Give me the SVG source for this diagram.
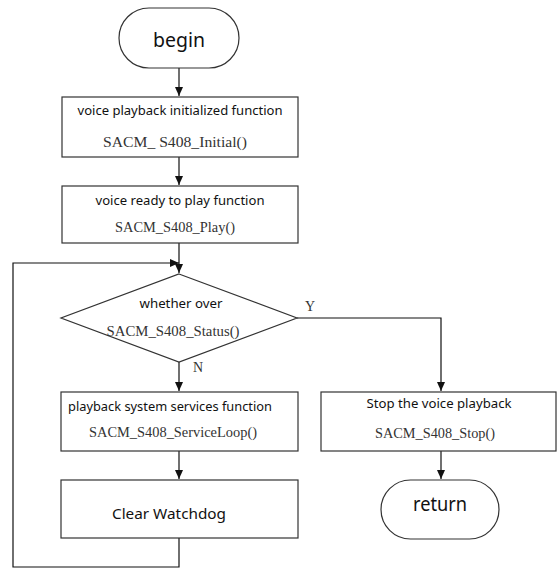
<svg xmlns="http://www.w3.org/2000/svg" width="557" height="568" viewBox="0 0 557 568">
<defs>
<marker id="ah" markerWidth="10" markerHeight="10" refX="9" refY="5" orient="auto" markerUnits="userSpaceOnUse">
<path d="M0,1 L9,5 L0,9 Z" fill="#111"/>
</marker>
<style>
.shape{fill:#fff;stroke:#333;stroke-width:1.2}
.conn{fill:none;stroke:#111;stroke-width:1.2}
.t{font-family:"Noto Sans","Open Sans",sans-serif;font-size:13px;fill:#111;text-anchor:middle}
.big{font-size:20px}
.mid{font-size:15px}
.c{font-family:"Liberation Serif","DejaVu Serif",serif;font-size:14px;fill:#333;text-anchor:middle}
</style>
</defs>
<rect width="557" height="568" fill="#fff"/>
<g id="connectors">
<line class="conn" x1="179" y1="68" x2="179" y2="96" marker-end="url(#ah)"/>
<line class="conn" x1="179" y1="157" x2="179" y2="185" marker-end="url(#ah)"/>
<line class="conn" x1="179" y1="243" x2="179" y2="273" marker-end="url(#ah)"/>
<polyline class="conn" points="179,538 179,567 13,567 13,263 179,263" marker-end="url(#ah)"/>
<line class="conn" x1="179" y1="362" x2="179" y2="391" marker-end="url(#ah)"/>
<line class="conn" x1="179" y1="451" x2="179" y2="479" marker-end="url(#ah)"/>
<polyline class="conn" points="297,318 441,318 441,391" marker-end="url(#ah)"/>
<line class="conn" x1="441" y1="451" x2="441" y2="479" marker-end="url(#ah)"/>
<text class="c" x="310" y="311" font-size="13">Y</text>
<text class="c" x="198" y="372" font-size="13">N</text>
</g>
<g id="begin">
<rect class="shape" x="119" y="8" width="120" height="60" rx="30"/>
<text class="t big" x="179" y="47" textLength="52" lengthAdjust="spacingAndGlyphs">begin</text>
</g>
<g id="init">
<rect class="shape" x="62" y="97" width="236" height="60"/>
<text class="t" x="180" y="115" textLength="205" lengthAdjust="spacingAndGlyphs">voice playback initialized function</text>
<text class="c" x="175" y="147" textLength="144" lengthAdjust="spacingAndGlyphs">SACM_ S408_Initial()</text>
</g>
<g id="play">
<rect class="shape" x="62" y="186" width="236" height="57"/>
<text class="t" x="180" y="205" textLength="169" lengthAdjust="spacingAndGlyphs">voice ready to play function</text>
<text class="c" x="175" y="232" textLength="120" lengthAdjust="spacingAndGlyphs">SACM_S408_Play()</text>
</g>
<g id="status">
<polygon class="shape" points="179,274 297,318 179,362 61,318"/>
<text class="t" x="181" y="308" textLength="83" lengthAdjust="spacingAndGlyphs">whether  over</text>
<text class="c" x="173" y="336" textLength="133" lengthAdjust="spacingAndGlyphs">SACM_S408_Status()</text>
</g>
<g id="service">
<rect class="shape" x="61" y="392" width="237" height="59"/>
<text class="t" x="170" y="411" textLength="204" lengthAdjust="spacingAndGlyphs">playback system services function</text>
<text class="c" x="173" y="437" textLength="168" lengthAdjust="spacingAndGlyphs">SACM_S408_ServiceLoop()</text>
</g>
<g id="watchdog">
<rect class="shape" x="61" y="480" width="237" height="58"/>
<text class="t mid" x="169" y="519" textLength="114" lengthAdjust="spacingAndGlyphs">Clear Watchdog</text>
</g>
<g id="stop">
<rect class="shape" x="321" y="392" width="235" height="59"/>
<text class="t" x="439" y="408" textLength="145" lengthAdjust="spacingAndGlyphs">Stop the voice playback</text>
<text class="c" x="435" y="438" textLength="120" lengthAdjust="spacingAndGlyphs">SACM_S408_Stop()</text>
</g>
<g id="return">
<rect class="shape" x="381" y="480" width="118" height="59" rx="29.5"/>
<text class="t big" x="440" y="511" textLength="54" lengthAdjust="spacingAndGlyphs">return</text>
</g>
</svg>
